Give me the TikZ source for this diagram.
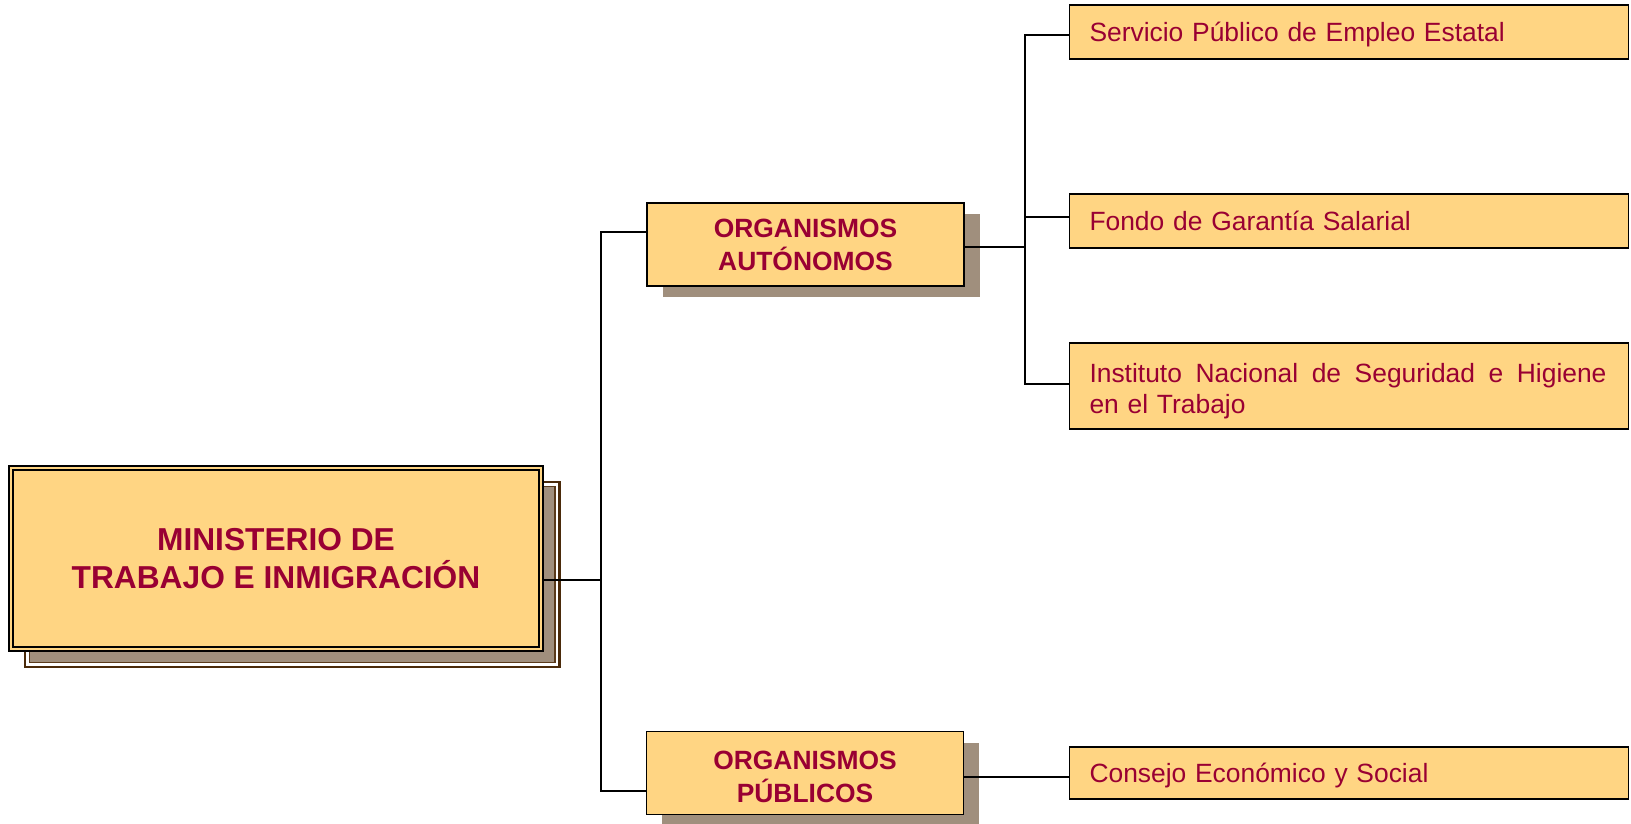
\documentclass[tikz,border=0pt]{standalone}
\usepackage{fontspec}
\setmainfont{Liberation Sans}
\usetikzlibrary{shadows}
\definecolor{boxfill}{HTML}{FFD583}
\definecolor{txt}{HTML}{990033}
\definecolor{shadowcol}{HTML}{A08F7D}
\definecolor{darkbrown}{HTML}{4A2A0A}
\definecolor{midbrown}{HTML}{5A3A1A}
\tikzset{
  conn/.style={line width=1.6pt, draw=black},
  orgbox/.style={draw=black, line width=1.3pt, fill=boxfill, text=txt,
    font=\bfseries\fontsize{26.4}{33}\selectfont, align=center,
    minimum width=317pt, minimum height=83pt, inner sep=0pt,
    drop shadow={shadow xshift=15.5pt, shadow yshift=-11pt, fill=shadowcol, opacity=1}},
  leafbox/.style={draw=black, line width=1.8pt, fill=boxfill, text=txt,
    font=\fontsize{26.4}{31}\selectfont, align=left, text width=519pt,
    inner xsep=20pt, inner ysep=0pt, minimum height=54pt},
  oneline/.style={text height=19pt, text depth=0pt},
  mainbox/.style={draw=black, line width=1.6pt, double=boxfill, double distance=2.3pt,
    fill=boxfill, minimum width=530pt, minimum height=181pt, inner sep=0pt, text=txt,
    font=\bfseries\fontsize{31.7}{38.5}\selectfont, align=center},
}
\begin{document}
\begin{tikzpicture}[x=1pt,y=-1pt]
\useasboundingbox (0,0) rectangle (1631,823);
% shadow of main box
\draw[darkbrown, line width=2.2pt] (25,482) rectangle (559.5,667);
\filldraw[fill=shadowcol, draw=midbrown, line width=1.6pt] (29.5,486.5) rectangle (555,662.5);
\node[mainbox] (min) at (276,558.5) {MINISTERIO DE\\TRABAJO E INMIGRACIÓN};
\node[orgbox] (oa) at (805.5,244.5) {\rule{0pt}{20pt}ORGANISMOS\\AUTÓNOMOS};
\node[orgbox] (op) at (805,773.3) {\rule{0pt}{25pt}ORGANISMOS\\PÚBLICOS};
\node[leafbox, oneline] (s1) at (1349,32.2) {Servicio Público de Empleo Estatal};
\node[leafbox, oneline] (s2) at (1349,221.2) {Fondo de Garantía Salarial};
\node[leafbox, minimum height=86pt] (s3) at (1349,386.3) {\rule{0pt}{28pt}\hbox to 517pt{Instituto\hfill Nacional\hfill de\hfill Seguridad\hfill e\hfill Higiene}\\en el Trabajo};
\node[leafbox, oneline, minimum height=52.6pt] (s4) at (1349,773) {Consejo Económico y Social};
% connectors
\coordinate (ta) at (601,232);
\coordinate (tm) at (601,580);
\coordinate (tp) at (601,791);
\draw[conn] (min.east |- tm) -- (tm);
\draw[conn] (oa.west |- ta) -- (ta) -- (tp) -- (op.west |- tp);
\coordinate (r1) at (1025,35);
\coordinate (r2) at (1025,217);
\coordinate (ra) at (1025,247);
\coordinate (r3) at (1025,384);
\draw[conn] (s1.west |- r1) -- (r1) -- (r3) -- (s3.west |- r3);
\draw[conn] (r2) -- (s2.west |- r2);
\draw[conn] (oa.east |- ra) -- (ra);
\coordinate (pc) at (1000,777);
\draw[conn] (op.east |- pc) -- (s4.west |- pc);
\end{tikzpicture}
\end{document}
